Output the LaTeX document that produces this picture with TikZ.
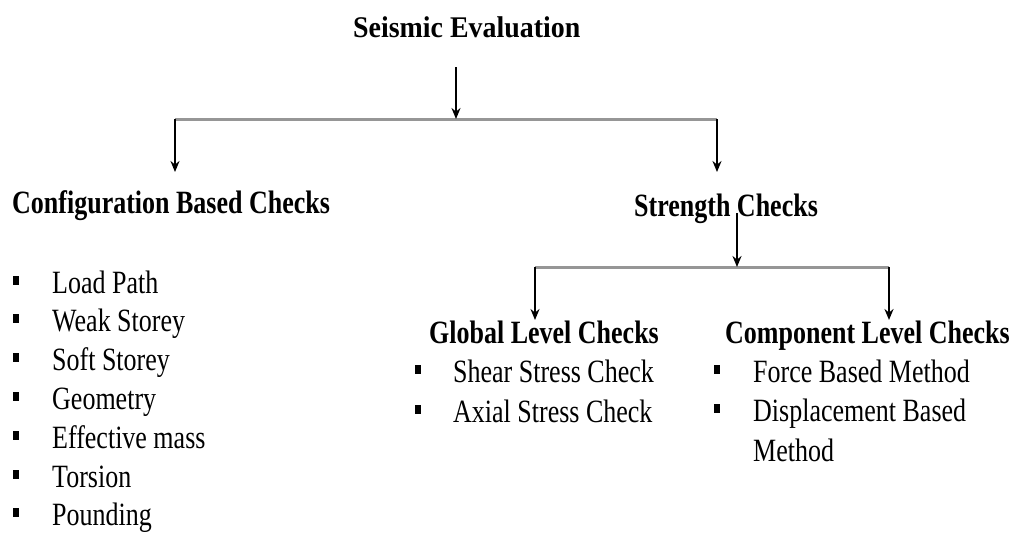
\documentclass[tikz,border=0pt]{standalone}
\usepackage{fontspec}
\setmainfont{Liberation Serif}[FakeStretch=0.80]
\newfontfamily\titlefont{Liberation Serif}[FakeStretch=0.93]
\usetikzlibrary{arrows.meta}
\definecolor{bargray}{RGB}{150,150,150}
\tikzset{
  txt/.style={anchor=base west, inner sep=0pt, font=\fontsize{32.5}{38}\selectfont},
  head/.style={txt, font=\fontsize{32.5}{38}\selectfont\bfseries},
  title/.style={anchor=base west, inner sep=0pt, font=\titlefont\fontsize{30}{36}\selectfont\bfseries},
  bul/.style={rectangle, fill=black, inner sep=0pt, minimum width=6.5pt, minimum height=9pt},
  bar/.style={draw=bargray, line width=3pt},
  arr/.style={draw=black, line width=2pt, -{Stealth[length=11pt,width=9pt]}}
}
\begin{document}
\begin{tikzpicture}[x=1pt,y=-1pt]
\useasboundingbox (0,0) rectangle (1015,539);

% titles and headings
\node[title] (se) at (353,37) {Seismic Evaluation};
\node[head] (cfg) at (12,213) {Configuration Based Checks};
\node[head] (str) at (634,216) {Strength Checks};
\node[head] (glb) at (429,343) {Global Level Checks};
\node[head] (cmp) at (725,343) {Component Level Checks};

% configuration items
\foreach \t [count=\i from 0] in {Load Path,Weak Storey,Soft Storey,Geometry,Effective mass,Torsion,Pounding}{
  \node[txt] (c\i) at (52,293+38.8*\i) {\t};
  \node[bul] (cb\i) at (16,280+38.8*\i) {};
}

% global level items
\node[txt] (g0) at (453,382) {Shear Stress Check};
\node[bul] (gb0) at (418,369) {};
\node[txt] (g1) at (453,422) {Axial Stress Check};
\node[bul] (gb1) at (418,409) {};

% component level items
\node[txt] (k0) at (753,382) {Force Based Method};
\node[bul] (kb0) at (717,369) {};
\node[txt] (k1) at (753,421) {Displacement Based};
\node[bul] (kb1) at (717,408) {};
\node[txt] (k2) at (753,461) {Method};

% first branching
\coordinate (t1) at (456,67);
\coordinate (j1) at (456,119);
\coordinate (l1) at (175,119);
\coordinate (r1) at (717,119);
\coordinate (l1e) at (175,172);
\coordinate (r1e) at (717,172);
\draw[bar] (l1) -- (r1);
\draw[arr] (t1) -- (j1);
\draw[arr] (l1) -- (l1e);
\draw[arr] (r1) -- (r1e);

% second branching
\coordinate (t2) at (737,213);
\coordinate (j2) at (737,267);
\coordinate (l2) at (535,267);
\coordinate (r2) at (889,267);
\coordinate (l2e) at (535,320);
\coordinate (r2e) at (889,320);
\draw[bar] (l2) -- (r2);
\draw[arr] (t2) -- (j2);
\draw[arr] (l2) -- (l2e);
\draw[arr] (r2) -- (r2e);
\end{tikzpicture}
\end{document}
